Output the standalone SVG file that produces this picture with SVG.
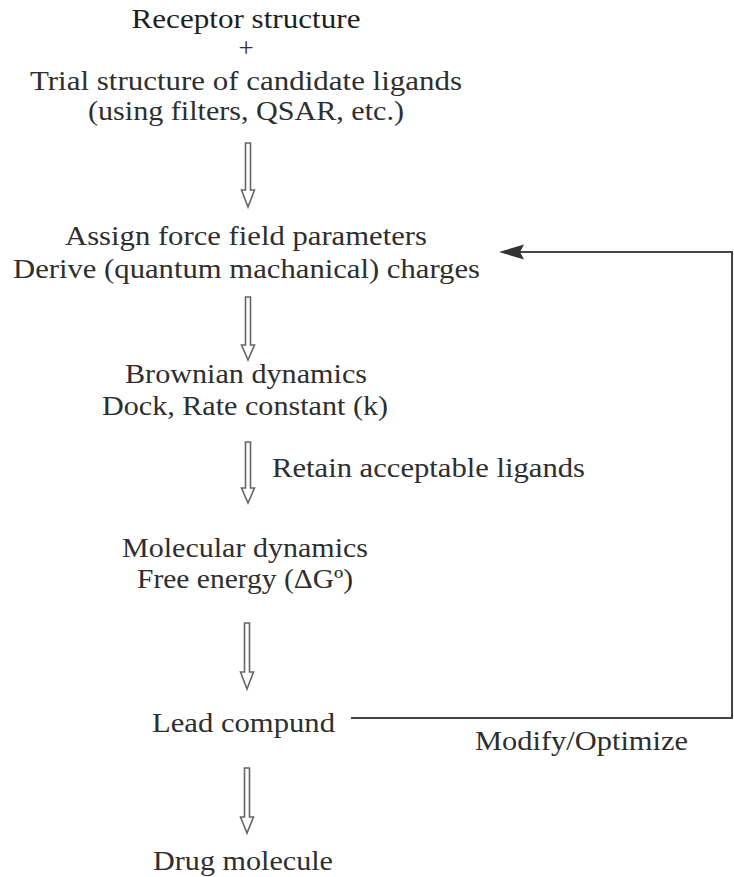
<svg xmlns="http://www.w3.org/2000/svg" width="734" height="877" viewBox="0 0 734 877">
<style>
text{font-family:"Liberation Serif","Times New Roman",serif;font-size:27px;fill:#2e2e2e;}
.c{text-anchor:middle;}
.arr{fill:#fff;stroke:#666;stroke-width:1.6;stroke-linejoin:miter;}
.ln{fill:none;stroke:#444;stroke-width:2;}
.head{fill:#333;stroke:none;}
</style>
<rect width="734" height="877" fill="#fff"/>
<g id="n-input">
<text class="c" x="246" y="28" textLength="229" lengthAdjust="spacingAndGlyphs" style="fill:#1e1e1e">Receptor structure</text>
<text class="c" x="246" y="57">+</text>
<text class="c" x="246" y="90" textLength="432" lengthAdjust="spacingAndGlyphs">Trial structure of candidate ligands</text>
<text class="c" x="246" y="120" textLength="316" lengthAdjust="spacingAndGlyphs">(using filters, QSAR, etc.)</text>
</g>
<g id="n-forcefield">
<text class="c" x="246" y="245" textLength="362" lengthAdjust="spacingAndGlyphs">Assign force field parameters</text>
<text class="c" x="246.5" y="278" textLength="467" lengthAdjust="spacingAndGlyphs">Derive (quantum machanical) charges</text>
</g>
<g id="n-brownian">
<text class="c" x="246" y="383" textLength="242" lengthAdjust="spacingAndGlyphs">Brownian dynamics</text>
<text class="c" x="245" y="415" textLength="286" lengthAdjust="spacingAndGlyphs">Dock, Rate constant (k)</text>
</g>
<g id="n-md">
<text class="c" x="245" y="557" textLength="246" lengthAdjust="spacingAndGlyphs">Molecular dynamics</text>
<text class="c" x="245" y="588" textLength="216" lengthAdjust="spacingAndGlyphs">Free energy (ΔGº)</text>
</g>
<g id="n-lead">
<text class="c" x="243.5" y="732" textLength="183" lengthAdjust="spacingAndGlyphs">Lead compund</text>
</g>
<g id="n-drug">
<text class="c" x="243" y="870" textLength="180" lengthAdjust="spacingAndGlyphs">Drug molecule</text>
</g>
<g id="connectors">
<path class="arr" d="M245.5,143 V190 H241.5 L248,207 L254.5,190 H250.5 V143 Z"/>
<path class="arr" d="M245.5,297 V345 H241.5 L248,360 L254.5,345 H250.5 V297 Z"/>
<path class="arr" d="M245.5,442 V488 H241.5 L248,503 L254.5,488 H250.5 V442 Z"/>
<path class="arr" d="M244.5,623 V672 H240.5 L247,689 L253.5,672 H249.5 V623 Z"/>
<path class="arr" d="M244.5,768 V817 H240.5 L247,833 L253.5,817 H249.5 V768 Z"/>
<text x="272" y="477" textLength="313" lengthAdjust="spacingAndGlyphs">Retain acceptable ligands</text>
<path class="ln" d="M351,718 H732 V252 H518"/>
<path class="head" d="M499,252 L524,244.5 L520,252 L524,259.5 Z"/>
<text x="475" y="750" textLength="213" lengthAdjust="spacingAndGlyphs">Modify/Optimize</text>
</g>
</svg>
